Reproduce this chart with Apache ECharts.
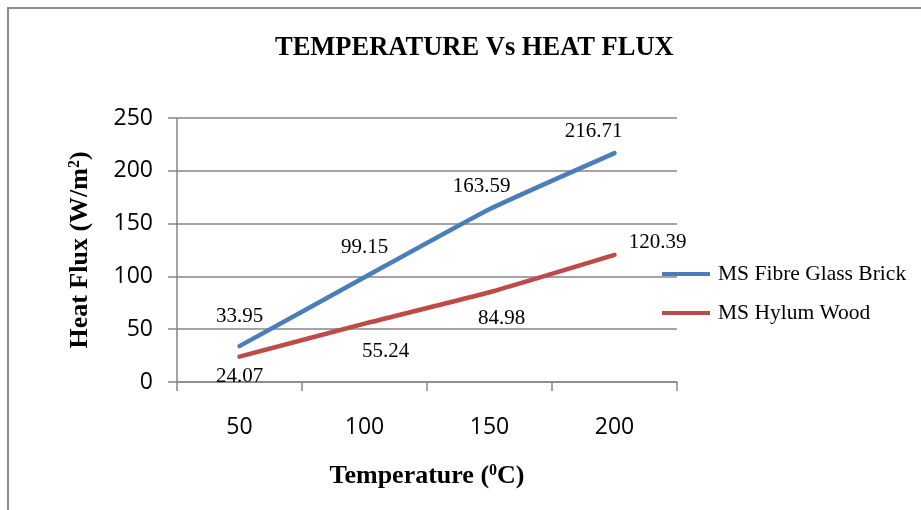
<!DOCTYPE html>
<html>
<head>
<meta charset="utf-8">
<script src="https://cdn.jsdelivr.net/npm/echarts@6/dist/echarts.min.js"></script>
<style>
html,body{margin:0;padding:0;background:#fff;}
#chart{width:921px;height:510px;}
</style>
</head>
<body>
<div id="chart"></div>
<script>
const categories = ['50', '100', '150', '200'];
const fibreGlass = [33.95, 99.15, 163.59, 216.71];
const hylumWood = [24.07, 55.24, 84.98, 120.39];
const yTicks = { min: 0, max: 250, interval: 50 };
const fibreLabelOffsets = [[0, -30], [0, -30], [-8, -23], [-21, -22]];
const hylumLabelOffsets = [[0, 20], [21, 28], [12, 26], [43, -12]];

const serif = '"Liberation Serif", "Times New Roman", serif';

function withLabels(values, offsets) {
  return values.map((v, i) => ({
    value: v,
    label: { offset: offsets[i] }
  }));
}

const nameRich = {
  b: { fontFamily: serif, fontWeight: 'bold', fontSize: 26, color: '#000' },
  s: { fontFamily: serif, fontWeight: 'bold', fontSize: 16, color: '#000', verticalAlign: 'top', padding: [0, 0, 10, 0] }
};

const chart = echarts.init(document.getElementById('chart'));
chart.setOption({
  animation: false,
  backgroundColor: '#fff',
  graphic: [{
    type: 'rect',
    shape: { x: 8, y: 8, width: 940, height: 540 },
    style: { fill: 'none', stroke: '#8c8c8c', lineWidth: 2 },
    silent: true
  }],
  title: {
    text: 'TEMPERATURE Vs HEAT FLUX',
    left: 270,
    top: 30,
    textStyle: { fontFamily: serif, fontWeight: 'bold', fontSize: 26.5, color: '#000' }
  },
  legend: {
    orient: 'vertical',
    left: 657,
    top: 258,
    itemWidth: 48,
    itemHeight: 4,
    itemGap: 17,
    icon: 'rect',
    textStyle: { fontFamily: serif, fontSize: 21.5, color: '#000', padding: [0, 0, 0, 3] },
    data: ['MS Fibre Glass Brick', 'MS Hylum Wood']
  },
  grid: { left: 177, right: 244, top: 118, bottom: 128 },
  xAxis: {
    type: 'category',
    data: categories,
    boundaryGap: true,
    name: '{b|Temperature (}{s|0}{b|C)}',
    nameLocation: 'middle',
    nameGap: 81,
    nameTextStyle: { rich: nameRich },
    axisLine: { lineStyle: { color: '#868686', width: 1.5 } },
    axisTick: { show: true, alignWithLabel: false, length: 9, lineStyle: { color: '#868686', width: 1.5 } },
    axisLabel: { fontFamily: '"Open Sans", sans-serif', fontSize: 23, color: '#000', margin: 34 }
  },
  yAxis: {
    type: 'value',
    min: yTicks.min,
    max: yTicks.max,
    interval: yTicks.interval,
    name: '{b|Heat Flux (W/m}{s|2}{b|)}',
    nameLocation: 'middle',
    nameGap: 84,
    nameRotate: 90,
    nameTextStyle: { rich: nameRich },
    axisLine: { show: true, lineStyle: { color: '#868686', width: 1.5 } },
    axisTick: { show: true, length: 9, lineStyle: { color: '#868686', width: 1.5 } },
    splitLine: { lineStyle: { color: '#868686', width: 1.5 } },
    axisLabel: { fontFamily: '"Open Sans", sans-serif', fontSize: 23, color: '#000', margin: 24 }
  },
  series: [
    {
      name: 'MS Fibre Glass Brick',
      type: 'line',
      data: withLabels(fibreGlass, fibreLabelOffsets),
      smooth: 0.15,
      showSymbol: true,
      symbol: 'circle',
      symbolSize: 2,
      itemStyle: { color: '#4A7EBB' },
      lineStyle: { color: '#4A7EBB', width: 4.5, cap: 'round' },
      label: {
        show: true,
        position: 'inside',
        fontFamily: serif,
        fontSize: 21,
        color: '#000'
      },
      z: 3
    },
    {
      name: 'MS Hylum Wood',
      type: 'line',
      data: withLabels(hylumWood, hylumLabelOffsets),
      smooth: 0.15,
      showSymbol: true,
      symbol: 'circle',
      symbolSize: 2,
      itemStyle: { color: '#BE4B48' },
      lineStyle: { color: '#BE4B48', width: 4.5, cap: 'round' },
      label: {
        show: true,
        position: 'inside',
        fontFamily: serif,
        fontSize: 21,
        color: '#000'
      },
      z: 3
    }
  ]
});
</script>
</body>
</html>
